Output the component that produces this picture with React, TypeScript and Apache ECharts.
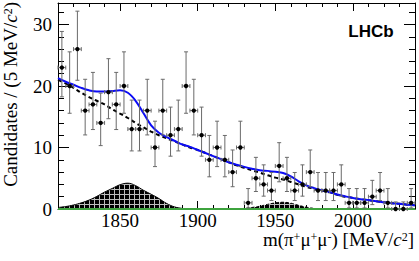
import React, { useEffect, useRef } from "react";
import * as echarts from "echarts";

// ---- data ----
const binCenters = [
  1812.5, 1817.5, 1822.5, 1827.5, 1832.5, 1837.5, 1842.5, 1847.5, 1852.5, 1857.5,
  1862.5, 1867.5, 1872.5, 1877.5, 1882.5, 1887.5, 1892.5, 1897.5, 1902.5, 1907.5,
  1912.5, 1917.5, 1922.5, 1927.5, 1932.5, 1937.5, 1942.5, 1947.5, 1952.5, 1957.5,
  1962.5, 1967.5, 1972.5, 1977.5, 1982.5, 1987.5, 1992.5, 1997.5, 2002.5, 2007.5,
  2012.5, 2017.5, 2022.5, 2027.5, 2032.5, 2037.5,
];
const counts = [
  23, 20, 26, 16, 17, 14, 19, 17, 20, 13,
  13, 16, 10, 16, 12, 13, 20, 16, 12, 8,
  10, 8, 6, 10, 1, 5, 4, 3, 7, 5,
  3, 4, 6, 3, 3, 3, 4, 1, 1, 1,
  2, 3, 1, 0, 0, 1,
];
const binHalfWidth = 2.5;

const curveMass = [
  1810, 1815, 1820, 1825, 1830, 1835, 1840, 1845, 1850, 1855,
  1860, 1865, 1870, 1875, 1880, 1885, 1890, 1895, 1900, 1905,
  1910, 1915, 1920, 1925, 1930, 1935, 1940, 1945, 1950, 1955,
  1960, 1965, 1970, 1975, 1980, 1985, 1990, 1995, 2000, 2005,
  2010, 2015, 2020, 2025, 2030, 2035, 2040,
];
const totalFit = [
  21.3, 20.7, 20.2, 19.7, 19.3, 19.1, 19.1, 19.2, 19.3, 18.9,
  17.6, 15.6, 13.6, 12.4, 11.7, 11.1, 10.5, 10.1, 9.6, 9.1,
  8.6, 8.1, 7.6, 7.2, 6.85, 6.55, 6.3, 6.2, 6.05, 5.85,
  5.3, 4.5, 3.85, 3.4, 3.05, 2.75, 2.35, 2.05, 1.8, 1.6,
  1.45, 1.25, 1.1, 0.95, 0.85, 0.7, 0.6,
];
const backgroundFit = [
  21.0, 20.4, 19.7, 18.9, 18.2, 17.6, 17.0, 16.2, 15.5, 14.8,
  14.0, 13.3, 12.6, 12.0, 11.5, 11.0, 10.5, 10.0, 9.6, 9.1,
  8.6, 8.1, 7.6, 7.1, 6.7, 6.3, 5.9, 5.5, 5.1, 4.8,
  4.4, 4.0, 3.6, 3.3, 3.0, 2.7, 2.3, 2.0, 1.8, 1.6,
  1.45, 1.25, 1.1, 0.95, 0.85, 0.7, 0.6,
];
const peak1Mass = [1810, 1815, 1820, 1825, 1830, 1835, 1840, 1845, 1850, 1855, 1860, 1865, 1870, 1875, 1880, 1885, 1890, 1895];
const peak1Fit = [0.25, 0.4, 0.65, 1.0, 1.45, 2.05, 2.75, 3.35, 3.95, 4.2, 3.8, 3.05, 2.4, 1.7, 0.9, 0.35, 0.1, 0];
const peak2Mass = [1925, 1930, 1935, 1940, 1945, 1950, 1955, 1960, 1965, 1970, 1975, 1980];
const peak2Fit = [0, 0.1, 0.25, 0.45, 0.75, 1.0, 1.1, 0.95, 0.6, 0.3, 0.1, 0];
const flatMass = [1810, 2040];
const flatFit = [0, 0];

const xMajorTicks = [1850, 1900, 1950, 2000];
const yMajorTicks = [0, 10, 20, 30];

// Poisson (68%) intervals as used for the data points
function poissonLow(n: number) {
  if (n <= 0) return 0;
  return n * Math.pow(1 - 1 / (9 * n) - 1 / (3 * Math.sqrt(n)), 3);
}
function poissonHigh(n: number) {
  if (n <= 0) return 1.148;
  return n + 1 + Math.sqrt(n + 0.75);
}

function makeHatch(): HTMLCanvasElement {
  const c = document.createElement("canvas");
  c.width = 5;
  c.height = 5;
  const ctx = c.getContext("2d")!;
  ctx.fillStyle = "#000";
  ctx.fillRect(0, 0, 5, 5);
  ctx.fillStyle = "#bdbdbd";
  ctx.fillRect(4, 0, 1, 5);
  ctx.fillRect(0, 4, 5, 1);
  return c;
}

const SERIF = '"Liberation Serif", "Times New Roman", serif';

export default function App() {
  const ref = useRef<HTMLDivElement>(null);

  useEffect(() => {
    if (!ref.current) return;
    const chart = echarts.init(ref.current, undefined, { renderer: "svg" });
    const hatch = makeHatch();
    const pattern = { image: hatch, repeat: "repeat", imageWidth: 5, imageHeight: 5 };

    const pts = binCenters.map((x, i) => [x, counts[i], poissonLow(counts[i]), poissonHigh(counts[i])]);
    const pair = (xs: number[], ys: number[]) => xs.map((x, i) => [x, ys[i]]);

    const rich = {
      n: { fontFamily: SERIF, fontSize: 19, lineHeight: 18, color: "#000", verticalAlign: "bottom" },
      i: { fontFamily: SERIF, fontSize: 19, lineHeight: 18, fontStyle: "italic", color: "#000", verticalAlign: "bottom" },
      s: { fontFamily: SERIF, fontSize: 12, lineHeight: 11, color: "#000", verticalAlign: "top" },
    };

    const xCommon = { type: "value", min: 1810, max: 2040, gridIndex: 0, splitLine: { show: false } };
    const yCommon = { type: "value", min: 0, max: 33.5, gridIndex: 0, splitLine: { show: false } };
    const axisLine = { show: true, onZero: false, lineStyle: { color: "#000", width: 1 } };
    const plain = (v: number) => String(v);

    const option: any = {
      animation: false,
      backgroundColor: "#fff",
      grid: { left: 58, right: 4, top: 3, bottom: 52, containLabel: false, outerBoundsMode: "none" },
      xAxis: [
        {
          ...xCommon, position: "bottom", interval: 10,
          axisLine, axisTick: { inside: true, length: 4, lineStyle: { color: "#000" } },
          axisLabel: { show: false },
        },
        {
          ...xCommon, position: "bottom",
          axisLine: { show: false, onZero: false },
          axisTick: { inside: true, length: 8, customValues: xMajorTicks, lineStyle: { color: "#000" } },
          axisLabel: {
            customValues: xMajorTicks, formatter: plain, margin: 4,
            fontFamily: SERIF, fontSize: 19, lineHeight: 14, color: "#000",
          },
        },
        {
          ...xCommon, position: "top", interval: 10,
          axisLine, axisTick: { inside: true, length: 4, lineStyle: { color: "#000" } },
          axisLabel: { show: false },
        },
        {
          ...xCommon, position: "top",
          axisLine: { show: false, onZero: false },
          axisTick: { inside: true, length: 8, customValues: xMajorTicks, lineStyle: { color: "#000" } },
          axisLabel: { show: false },
        },
      ],
      yAxis: [
        {
          ...yCommon, position: "left", interval: 2,
          axisLine, axisTick: { inside: true, length: 6, lineStyle: { color: "#000" } },
          axisLabel: { show: false },
        },
        {
          ...yCommon, position: "left",
          axisLine: { show: false, onZero: false },
          axisTick: { inside: true, length: 11, customValues: yMajorTicks, lineStyle: { color: "#000" } },
          axisLabel: { customValues: yMajorTicks, formatter: plain, margin: 6, fontFamily: SERIF, fontSize: 19, color: "#000" },
        },
        {
          ...yCommon, position: "right", interval: 2,
          axisLine, axisTick: { inside: true, length: 6, lineStyle: { color: "#000" } },
          axisLabel: { show: false },
        },
        {
          ...yCommon, position: "right",
          axisLine: { show: false, onZero: false },
          axisTick: { inside: true, length: 11, customValues: yMajorTicks, lineStyle: { color: "#000" } },
          axisLabel: { show: false },
        },
      ],
      series: [
        {
          name: "peak1", type: "line", xAxisIndex: 0, yAxisIndex: 0, z: 2,
          data: pair(peak1Mass, peak1Fit), smooth: 0.4, showSymbol: false, clip: true,
          lineStyle: { color: "#000", width: 1 },
          areaStyle: { color: pattern, opacity: 1 },
        },
        {
          name: "peak2", type: "line", xAxisIndex: 0, yAxisIndex: 0, z: 2,
          data: pair(peak2Mass, peak2Fit), smooth: 0.4, showSymbol: false, clip: true,
          lineStyle: { color: "#000", width: 1, type: [3, 2] },
          areaStyle: { color: pattern, opacity: 1 },
        },
        {
          name: "flat", type: "line", xAxisIndex: 0, yAxisIndex: 0, z: 3,
          data: pair(flatMass, flatFit), showSymbol: false, clip: false,
          lineStyle: { color: "#3ea33e", width: 2 },
        },
        {
          name: "background", type: "line", xAxisIndex: 0, yAxisIndex: 0, z: 4,
          data: pair(curveMass, backgroundFit), smooth: 0.35, showSymbol: false,
          lineStyle: { color: "#000", width: 2, type: [4, 3] },
        },
        {
          name: "total", type: "line", xAxisIndex: 0, yAxisIndex: 0, z: 5,
          data: pair(curveMass, totalFit), smooth: 0.35, showSymbol: false,
          lineStyle: { color: "#0c0cf5", width: 2 },
        },
        {
          name: "data", type: "custom", xAxisIndex: 0, yAxisIndex: 0, z: 6, clip: false,
          data: pts,
          renderItem: (params: any, api: any) => {
            const x = api.value(0), y = api.value(1), lo = api.value(2), hi = api.value(3);
            const pLo = api.coord([x, lo]);
            const pHi = api.coord([x, hi]);
            const pC = api.coord([x, y]);
            const pL = api.coord([x - binHalfWidth, y]);
            const pR = api.coord([x + binHalfWidth, y]);
            const st = { stroke: "#6a6a6a", lineWidth: 1 };
            const cap = 2;
            return {
              type: "group",
              children: [
                { type: "line", shape: { x1: pC[0], y1: pLo[1], x2: pC[0], y2: pHi[1] }, style: st },
                { type: "line", shape: { x1: pC[0] - cap, y1: pHi[1], x2: pC[0] + cap, y2: pHi[1] }, style: st },
                { type: "line", shape: { x1: pC[0] - cap, y1: pLo[1], x2: pC[0] + cap, y2: pLo[1] }, style: st },
                { type: "line", shape: { x1: pL[0], y1: pC[1], x2: pR[0], y2: pC[1] }, style: st },
                { type: "line", shape: { x1: pL[0], y1: pC[1] - cap, x2: pL[0], y2: pC[1] + cap }, style: st },
                { type: "line", shape: { x1: pR[0], y1: pC[1] - cap, x2: pR[0], y2: pC[1] + cap }, style: st },
                { type: "circle", shape: { cx: pC[0], cy: pC[1], r: 2.2 }, style: { fill: "#000" } },
              ],
            };
          },
        },
      ],
      graphic: [
        {
          type: "text", x: 414, y: 240, z: 10,
          style: {
            text: "{n|m(π}{s|+}{n|μ}{s|+}{n|μ}{s|-}{n|) [MeV/}{i|c}{s|2}{n|]}",
            rich,
            align: "right", verticalAlign: "middle",
            textAlign: "right", textVerticalAlign: "middle",
          },
        },
        {
          type: "text", x: 11, y: 2, rotation: Math.PI / 2, z: 10,
          style: {
            text: "{n|Candidates / (5 MeV/}{i|c}{s|2}{n|)}",
            rich,
            align: "right", verticalAlign: "middle",
            textAlign: "right", textVerticalAlign: "middle",
          },
        },
        {
          type: "text", x: 371, y: 31, z: 10,
          style: {
            text: "LHCb",
            font: 'bold 17px "Liberation Sans", Arial, sans-serif',
            fill: "#000",
            align: "center", verticalAlign: "middle",
            textAlign: "center", textVerticalAlign: "middle",
          },
        },
      ],
    };

    chart.setOption(option);
    return () => chart.dispose();
  }, []);

  return (
    <div
      ref={ref}
      style={{ position: "fixed", left: 0, top: 0, width: 419, height: 261, background: "#fff" }}
    />
  );
}
